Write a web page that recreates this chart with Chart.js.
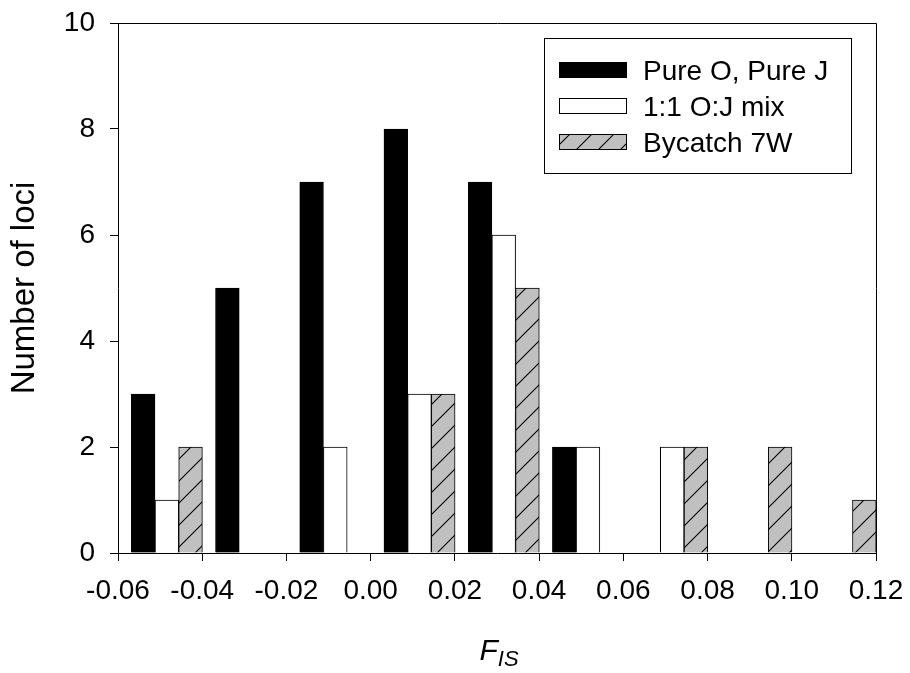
<!DOCTYPE html>
<html>
<head>
<meta charset="utf-8">
<script src="https://cdn.jsdelivr.net/npm/chart.js@4.4.1/dist/chart.umd.min.js"></script>
<style>
  body { margin: 0; background: #fff; }
  #wrap { width: 910px; height: 673px; position: relative; }
</style>
</head>
<body>
<div id="wrap"><canvas id="fisChart"></canvas></div>
<script>
// each bin is labelled by its upper edge on the F_IS axis
var binUpper = [-0.04, -0.02, 0.00, 0.02, 0.04, 0.06, 0.08, 0.10, 0.12];
var pureOJ   = [3, 5, 7, 8, 7, 2, 0, 0, 0];
var mixOJ    = [1, 0, 2, 3, 6, 2, 2, 0, 0];
var bycatch  = [2, 0, 0, 3, 5, 0, 2, 2, 1];
var seriesNames = ['Pure O, Pure J', '1:1 O:J mix', 'Bycatch 7W'];
var xTicks = [-0.06, -0.04, -0.02, 0.00, 0.02, 0.04, 0.06, 0.08, 0.10, 0.12];
var yTicks = [0, 2, 4, 6, 8, 10];

var FONT = '"Liberation Sans", Arial, Helvetica, sans-serif';
var BAR_W = 23.7;          // px per bar
var GROUP_SHIFT = 0.0084;  // bar groups sit just left of the bin's upper edge

var canvas = document.getElementById('fisChart');
var ctx = canvas.getContext('2d');

function makeHatch(){
    var s = 22;
    var c = document.createElement('canvas');
    c.width = s; c.height = s;
    var g = c.getContext('2d');
    g.fillStyle = '#c0c0c0';
    g.fillRect(0, 0, s, s);
    g.strokeStyle = '#000';
    g.lineWidth = 1.1;
    g.beginPath();
    g.moveTo(0, s); g.lineTo(s, 0);
    g.moveTo(-3, 3); g.lineTo(3, -3);
    g.moveTo(s - 3, s + 3); g.lineTo(s + 3, s - 3);
    g.stroke();
    return ctx.createPattern(c, 'repeat');
}
var hatch = makeHatch();

function pts(arr){
    return binUpper.map(function(b, i){ return { x: b - GROUP_SHIFT, y: arr[i] }; });
}

function fmt(v){
    if (Math.abs(v) < 1e-9) v = 0;
    return v.toFixed(2);
}

function noPad(axis){
    axis.paddingTop = 0; axis.paddingBottom = 0;
    axis.paddingLeft = 0; axis.paddingRight = 0;
}

// plot frame (top + right lines)
var framePlugin = {
    id: 'frame',
    afterDatasetsDraw: function(chart){
        var a = chart.chartArea, c = chart.ctx;
        var al = function(p){ return Math.round(p - 0.5) + 0.5; };
        c.save();
        c.strokeStyle = '#000';
        c.lineWidth = 1;
        c.beginPath();
        c.moveTo(al(a.left), al(a.top));
        c.lineTo(al(a.right), al(a.top));
        c.lineTo(al(a.right), al(a.bottom));
        c.stroke();
        c.restore();
    }
};

// boxed legend inside the plot, top right
var boxLegend = {
    id: 'boxLegend',
    afterDraw: function(chart){
        var c = chart.ctx;
        var x0 = 544, y0 = 38, w = 307, h = 135;
        var rows = [70, 106, 142];
        c.save();
        c.fillStyle = '#fff';
        c.fillRect(x0, y0, w, h);
        c.strokeStyle = '#000';
        c.lineWidth = 1;
        c.strokeRect(x0 + 0.5, y0 + 0.5, w, h);
        chart.data.datasets.forEach(function(ds, i){
            var cy = rows[i];
            c.fillStyle = ds.backgroundColor;
            c.fillRect(559, cy - 8, 68, 16);
            c.strokeStyle = '#000';
            c.strokeRect(559.5, cy - 7.5, 67, 15);
            c.fillStyle = '#000';
            c.font = '28px ' + FONT;
            c.textBaseline = 'alphabetic';
            c.textAlign = 'left';
            c.fillText(ds.label, 643, cy + 10);
        });
        c.restore();
    }
};

// x title F with subscript IS
var fisTitle = {
    id: 'fisTitle',
    afterDraw: function(chart){
        var c = chart.ctx, a = chart.chartArea;
        c.save();
        c.fillStyle = '#000';
        c.textBaseline = 'alphabetic';
        c.textAlign = 'left';
        var bigF = 'italic 30px ' + FONT, small = 'italic 22px ' + FONT;
        c.font = bigF;
        var wF = c.measureText('F').width;
        c.font = small;
        var wS = c.measureText('IS').width;
        var x = (a.left + a.right) / 2 + 2 - (wF + wS) / 2;
        c.font = bigF;
        c.fillText('F', x, 660);
        c.font = small;
        c.fillText('IS', x + wF, 666);
        c.restore();
    }
};

var barStyle = {
    borderColor: '#000',
    borderWidth: 1,
    barThickness: BAR_W
};

var myChart = new Chart(ctx, {
    type: 'bar',
    data: {
        datasets: [
            Object.assign({ label: seriesNames[0], data: pts(pureOJ), backgroundColor: '#000' }, barStyle),
            Object.assign({ label: seriesNames[1], data: pts(mixOJ), backgroundColor: '#fff' }, barStyle),
            Object.assign({ label: seriesNames[2], data: pts(bycatch), backgroundColor: hatch }, barStyle)
        ]
    },
    options: {
        responsive: true,
        maintainAspectRatio: false,
        animation: false,
        layout: { padding: { top: 23, right: 34, left: 0, bottom: 0 } },
        plugins: {
            legend: { display: false },
            tooltip: { enabled: false }
        },
        scales: {
            x: {
                type: 'linear',
                min: -0.06,
                max: 0.12,
                offset: false,
                afterBuildTicks: function(axis){
                    axis.ticks = xTicks.map(function(v){ return { value: v }; });
                },
                afterFit: function(axis){ axis.height = 120; noPad(axis); },
                grid: { offset: false, drawOnChartArea: false, tickLength: 8, tickColor: '#000', tickWidth: 1 },
                border: { display: true, color: '#000', width: 1 },
                ticks: {
                    color: '#000',
                    font: { family: FONT, size: 28 },
                    padding: 13,
                    maxRotation: 0,
                    autoSkip: false,
                    callback: function(v){ return fmt(v); }
                },
                title: { display: false }
            },
            y: {
                min: 0,
                max: 10,
                afterBuildTicks: function(axis){
                    axis.ticks = yTicks.map(function(v){ return { value: v }; });
                },
                afterFit: function(axis){ axis.width = 118; noPad(axis); },
                grid: { drawOnChartArea: false, tickLength: 8, tickColor: '#000', tickWidth: 1 },
                border: { display: true, color: '#000', width: 1 },
                ticks: {
                    color: '#000',
                    font: { family: FONT, size: 28 },
                    padding: 15
                },
                title: {
                    display: true,
                    text: 'Number of loci',
                    color: '#000',
                    font: { family: FONT, size: 33 },
                    padding: { top: 5, bottom: 0 }
                }
            }
        }
    },
    plugins: [framePlugin, boxLegend, fisTitle]
});
</script>
</body>
</html>
